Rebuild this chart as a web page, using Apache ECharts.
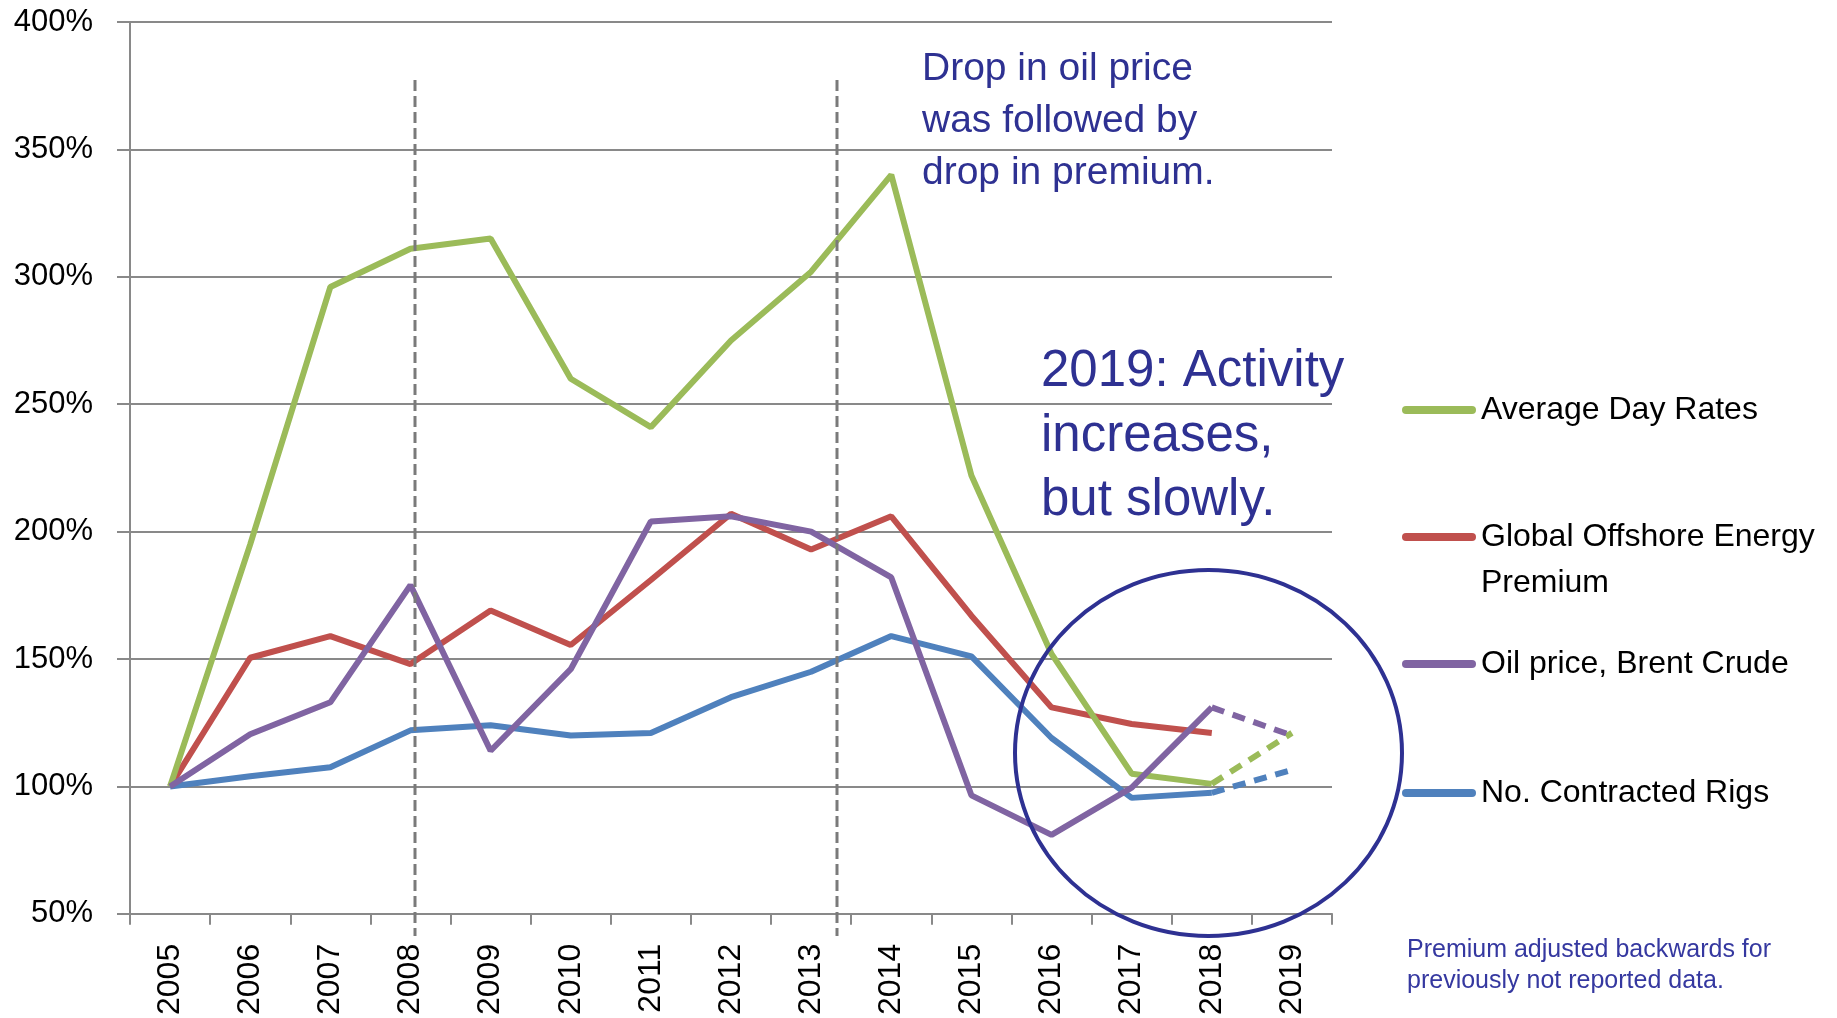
<!DOCTYPE html>
<html>
<head>
<meta charset="utf-8">
<script src="https://cdn.jsdelivr.net/npm/echarts@6/dist/echarts.min.js"></script>
<style>
html,body{margin:0;padding:0;background:#fff;}
#chart{width:1837px;height:1018px;}
</style>
</head>
<body>
<div id="chart"></div>
<script>
// ---- data ----
const categories = ['2005','2006','2007','2008','2009','2010','2011','2012','2013','2014','2015','2016','2017','2018','2019'];
const dayRates = [100,195,296,311,315,260,241,275,302,340,222,152,105,101];
const dayRates2019 = 121;
const premium = [100,150.5,159,148,169,155.5,181,207,193,206,167,131,124.5,121];
const oilPrice = [100,120.5,133,179,114,146,204,206,200,182,96.5,81,99.5,131];
const oilPrice2019 = 120;
const rigs = [100,104,107.5,122,124,120,121,135,145,159,151,119,95.5,97.5];
const rigs2019 = 106.5;
const seriesNames = ['Average Day Rates','Global Offshore Energy Premium','Oil price, Brent Crude','No. Contracted Rigs'];

const COLORS = {green:'#9BBB59', red:'#C0504D', purple:'#8064A2', blue:'#4F81BD'};
const GRID = '#898989';
const NAVY = '#2E3192';

function dashedData(arr, next){
  return categories.map((c,i)=> i===arr.length-1 ? arr[arr.length-1] : (i===arr.length ? next : null));
}
function solid(name, data, color){
  return {name, type:'line', data, symbol:'none', silent:true,
    lineStyle:{color, width:6}, itemStyle:{color}};
}
function dashed(name, data, color){
  return {name, type:'line', data, symbol:'none', silent:true, connectNulls:false,
    lineStyle:{color, width:6, type:[13,9]}, itemStyle:{color}};
}

const legendIcon = 'path://M4 0H70A4 4 0 0 1 70 8H4A4 4 0 0 1 4 0Z';
function legendFor(name, centerY, twoLine){
  const L = 46;
  const o = {
    data:[name], left:1402, top: twoLine ? centerY - 1.5*L : centerY - L/2,
    orient:'vertical', padding:0, itemWidth:74, itemHeight:8, itemGap:5,
    icon: legendIcon, selectedMode:false,
    textStyle:{fontFamily:'Liberation Sans', fontSize:32, color:'#000', lineHeight:L}
  };
  if (twoLine){
    o.formatter = ' \nGlobal Offshore Energy\nPremium';
  }
  return o;
}

const chart = echarts.init(document.getElementById('chart'));
chart.setOption({
  animation:false,
  backgroundColor:'#fff',
  grid:{left:130, right:505, top:22, bottom:103, containLabel:false},
  xAxis:{
    type:'category', data:categories, boundaryGap:true,
    axisLine:{show:true, lineStyle:{color:GRID, width:2}},
    axisTick:{show:true, length:11, lineStyle:{color:GRID, width:2}},
    axisLabel:{rotate:90, margin:30, fontFamily:'Liberation Sans', fontSize:32, color:'#000'},
    splitLine:{show:false}
  },
  yAxis:{
    type:'value', min:50, max:400, interval:50,
    axisLine:{show:true, lineStyle:{color:GRID, width:2}},
    axisTick:{show:true, length:13, lineStyle:{color:GRID, width:2}},
    axisLabel:{formatter:'{value}%', margin:37, fontFamily:'Liberation Sans', fontSize:31, color:'#000'},
    splitLine:{show:true, lineStyle:{color:GRID, width:2}}
  },
  legend:[
    legendFor(seriesNames[0], 410, false),
    legendFor(seriesNames[1], 537, true),
    legendFor(seriesNames[2], 664, false),
    legendFor(seriesNames[3], 793, false)
  ],
  series:[
    solid(seriesNames[1], premium, COLORS.red),
    solid(seriesNames[3], rigs, COLORS.blue),
    dashed('rigs-2019', dashedData(rigs, rigs2019), COLORS.blue),
    solid(seriesNames[0], dayRates, COLORS.green),
    dashed('dayrates-2019', dashedData(dayRates, dayRates2019), COLORS.green),
    solid(seriesNames[2], oilPrice, COLORS.purple),
    dashed('oil-2019', dashedData(oilPrice, oilPrice2019), COLORS.purple)
  ],
  graphic:[
    {type:'line', z:100, silent:true, shape:{x1:415,y1:80,x2:415,y2:936},
      style:{stroke:'#7a7a7a', lineWidth:3, lineDash:[11,5]}},
    {type:'line', z:100, silent:true, shape:{x1:837,y1:80,x2:837,y2:936},
      style:{stroke:'#7a7a7a', lineWidth:3, lineDash:[11,5]}},
    {type:'ellipse', z:110, silent:true, shape:{cx:1208.5, cy:753, rx:193.5, ry:183},
      style:{fill:'none', stroke:NAVY, lineWidth:4}},
    {type:'text', z:120, silent:true, x:922, y:43,
      style:{text:'Drop in oil price\nwas followed by\ndrop in premium.', fill:NAVY,
        font:'39px "Liberation Sans"', lineHeight:52, align:'left', verticalAlign:'top'}},
    {type:'text', z:120, silent:true, x:1041, y:340,
      style:{text:'2019: Activity\nincreases,\nbut slowly.', fill:NAVY,
        font:'51px "Liberation Sans"', lineHeight:64.5, align:'left', verticalAlign:'top'}},
    {type:'text', z:120, silent:true, x:1407, y:935,
      style:{text:'Premium adjusted backwards for\npreviously not reported data.', fill:'#3538A0',
        font:'25px "Liberation Sans"', lineHeight:31, align:'left', verticalAlign:'top'}}
  ]
});
</script>
</body>
</html>
